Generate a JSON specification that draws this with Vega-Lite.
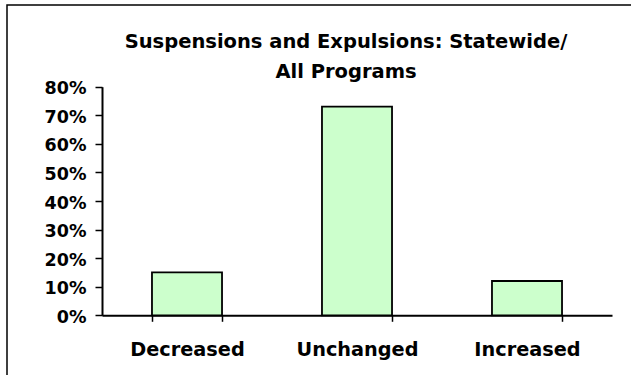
{
  "$schema": "https://vega.github.io/schema/vega-lite/v6.json",
  "autosize": "none",
  "width": 630,
  "height": 375,
  "padding": {"left": 7, "top": 5, "right": 0, "bottom": 0},
  "background": "white",
  "title": {
    "text": ["Suspensions and Expulsions: Statewide/", "All Programs"],
    "font": "DejaVu Sans",
    "fontSize": 19.5,
    "fontWeight": "bold",
    "color": "black",
    "lineHeight": 30,
    "anchor": "middle",
    "frame": "group",
    "baseline": "alphabetic",
    "offset": 0,
    "dx": 24,
    "dy": 92
  },
  "data": {
    "values": [
      {"change": "Decreased", "share": 0.15},
      {"change": "Unchanged", "share": 0.73},
      {"change": "Increased", "share": 0.12}
    ]
  },
  "mark": {"type": "bar", "fill": "#CCFFCC", "stroke": "black", "strokeWidth": 1.8},
  "encoding": {
    "x": {
      "field": "change",
      "type": "nominal",
      "sort": null,
      "scale": {"range": [95, 605], "paddingInner": 0.588, "paddingOuter": 0.294},
      "axis": {
        "title": null,
        "offset": -64.7,
        "tickBand": "extent",
        "labelAngle": 0,
        "labelFont": "DejaVu Sans",
        "labelFontSize": 19.3,
        "labelFontWeight": "bold",
        "labelColor": "black",
        "labelBaseline": "alphabetic",
        "labelPadding": 34,
        "domainColor": "black",
        "domainWidth": 2,
        "tickColor": "black",
        "tickWidth": 1.5,
        "tickSize": 6
      }
    },
    "y": {
      "field": "share",
      "type": "quantitative",
      "scale": {"domain": [0, 0.8], "range": [310.3, 81.7], "nice": false},
      "axis": {
        "title": null,
        "offset": -95,
        "values": [0, 0.1, 0.2, 0.3, 0.4, 0.5, 0.6, 0.7, 0.8],
        "format": ".0%",
        "grid": false,
        "labelFont": "DejaVu Sans",
        "labelFontSize": 17.5,
        "labelFontWeight": "bold",
        "labelColor": "black",
        "labelPadding": 9,
        "labelOffset": 2,
        "domainColor": "black",
        "domainWidth": 2,
        "tickColor": "black",
        "tickWidth": 1.5,
        "tickSize": 7
      }
    }
  },
  "config": {
    "view": {"stroke": "black", "strokeWidth": 1.5, "fill": "white"}
  }
}
